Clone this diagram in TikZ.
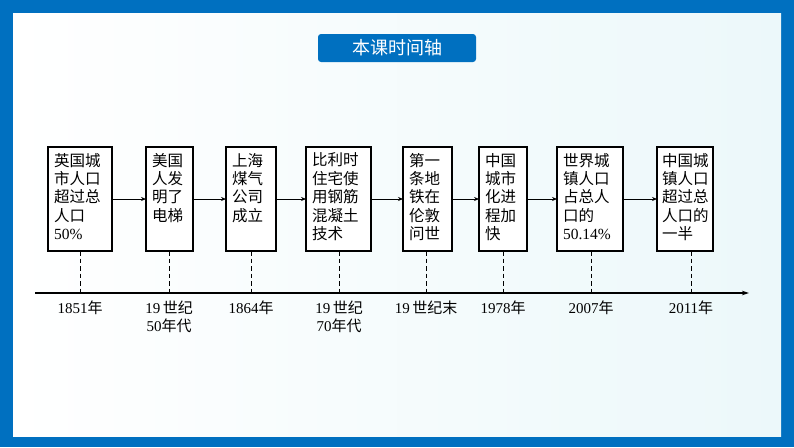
\documentclass[tikz,border=0pt]{standalone}
\usepackage{fontspec}
\setmainfont{Liberation Serif}
\newfontfamily\cjk{Noto Sans CJK SC}
\usetikzlibrary{arrows.meta}
\definecolor{frameblue}{RGB}{0,112,192}
\definecolor{palecyan}{RGB}{236,248,250}
\newcommand\zh[1]{{\cjk #1}}
\newcommand\boxtext[2]{\parbox[c][92pt][t]{#1}{\fontsize{15.5pt}{18.4pt}\selectfont #2}}
\tikzset{
  evbox/.style={draw=black, line width=1.1pt, fill=white, inner xsep=6pt, inner ysep=6pt, outer sep=0pt},
  flowarrow/.style={line width=0.8pt, -{Stealth[length=5pt,width=4pt]}},
  tick/.style={line width=1pt, dash pattern=on 4.5pt off 3pt},
  datelabel/.style={anchor=north, align=center, inner sep=0pt, font=\fontsize{15pt}{17.5pt}\selectfont},
}
\begin{document}
\begin{tikzpicture}[x=1pt,y=-1pt]
\useasboundingbox (0,0) rectangle (794,447);
% frame
\fill[frameblue] (0,0) rectangle (794,447);
\shade[left color=white, right color=palecyan] (13,13) rectangle (781,436);
% title
\node[fill=frameblue, rounded corners=3pt, minimum width=158pt, minimum height=28pt, inner sep=0pt, text=white, font=\cjk\fontsize{18pt}{20pt}\selectfont] (title) at (397,48) {本课时间轴};
% boxes
\node[evbox] (b1) at (80,199) {\boxtext{52pt}{\zh{英国城}\\\zh{市人口}\\\zh{超过总}\\\zh{人口}\\50\%}};
\node[evbox] (b2) at (169.5,199) {\boxtext{35pt}{\zh{美国}\\\zh{人发}\\\zh{明了}\\\zh{电梯}}};
\node[evbox] (b3) at (251,199) {\boxtext{38pt}{\zh{上海}\\\zh{煤气}\\\zh{公司}\\\zh{成立}}};
\node[evbox] (b4) at (338.5,199) {\boxtext{53pt}{\zh{比利时}\\\zh{住宅使}\\\zh{用钢筋}\\\zh{混凝土}\\\zh{技术}}};
\node[evbox] (b5) at (427.5,199) {\boxtext{37pt}{\zh{第一}\\\zh{条地}\\\zh{铁在}\\\zh{伦敦}\\\zh{问世}}};
\node[evbox] (b6) at (503,199) {\boxtext{36pt}{\zh{中国}\\\zh{城市}\\\zh{化进}\\\zh{程加}\\\zh{快}}};
\node[evbox] (b7) at (590,199) {\boxtext{54pt}{\zh{世界城}\\\zh{镇人口}\\\zh{占总人}\\\zh{口的}\\50.14\%}};
\node[evbox, inner xsep=5pt] (b8) at (685,199) {\boxtext{46pt}{\zh{中国城}\\\zh{镇人口}\\\zh{超过总}\\\zh{人口的}\\\zh{一半}}};
% flow arrows
\foreach \a/\b in {b1/b2,b2/b3,b3/b4,b4/b5,b5/b6,b6/b7,b7/b8}
  \draw[flowarrow] (\a.east) -- (\b.west);
% axis
\coordinate (axl) at (35,293);
\coordinate (axr) at (749,293);
\draw[line width=1.1pt, -{Stealth[length=7pt,width=4.5pt]}] (axl) -- (axr);
% ticks
\coordinate (t1) at (80,293);
\coordinate (t2) at (169,293);
\coordinate (t3) at (251,293);
\coordinate (t4) at (339,293);
\coordinate (t5) at (426,293);
\coordinate (t6) at (503,293);
\coordinate (t7) at (591,293);
\coordinate (t8) at (691,293);
\foreach \i in {1,...,8}
  \draw[tick] (b\i.south -| t\i) -- (t\i);
% date labels
\node[datelabel] (d1) at ([yshift=-8pt]t1) {1851\zh{年}};
\node[datelabel] (d2) at ([yshift=-8pt]t2) {19\,\zh{世纪}\\50\zh{年代}};
\node[datelabel] (d3) at ([yshift=-8pt]t3) {1864\zh{年}};
\node[datelabel] (d4) at ([yshift=-8pt]t4) {19\,\zh{世纪}\\70\zh{年代}};
\node[datelabel] (d5) at ([yshift=-8pt]t5) {19\,\zh{世纪末}};
\node[datelabel] (d6) at ([yshift=-8pt]t6) {1978\zh{年}};
\node[datelabel] (d7) at ([yshift=-8pt]t7) {2007\zh{年}};
\node[datelabel] (d8) at ([yshift=-8pt]t8) {2011\zh{年}};
\end{tikzpicture}
\end{document}
